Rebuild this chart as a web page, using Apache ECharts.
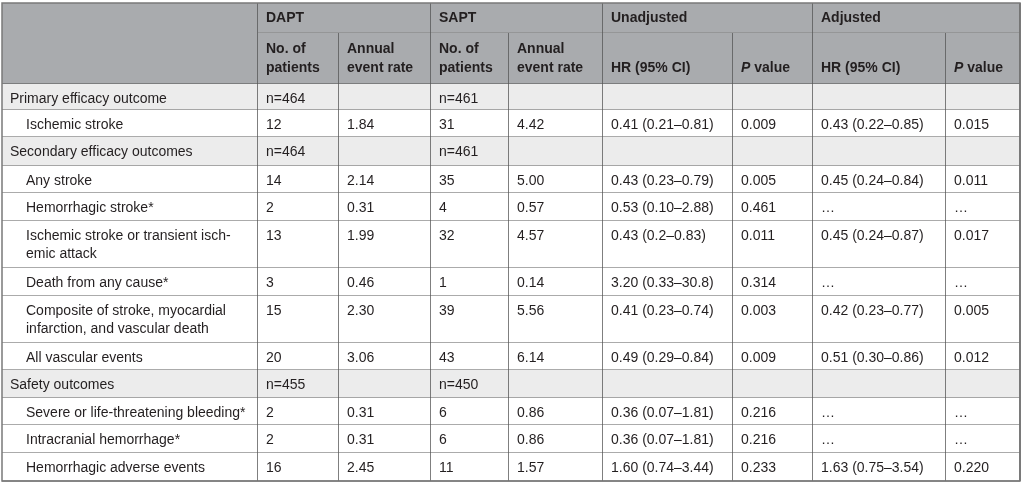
<!DOCTYPE html>
<html>
<head>
<meta charset="utf-8">
<script src="https://cdn.jsdelivr.net/npm/echarts@6/dist/echarts.min.js"></script>
<style>
  html, body { margin: 0; padding: 0; background: #fff; }
  #myChart { width: 1024px; height: 484px; }
</style>
</head>
<body>
<div id="myChart"></div>
<script>
// table content
const groups = ['DAPT', 'SAPT', 'Unadjusted', 'Adjusted']
const subHeaders = ['No. of\npatients', 'Annual\nevent rate', 'No. of\npatients', 'Annual\nevent rate',
    'HR (95% CI)', '{i|P} value', 'HR (95% CI)', '{i|P} value']
const rowLabels = [
    'Primary efficacy outcome',
    'Ischemic stroke',
    'Secondary efficacy outcomes',
    'Any stroke',
    'Hemorrhagic stroke*',
    'Ischemic stroke or transient isch-\nemic attack',
    'Death from any cause*',
    'Composite of stroke, myocardial\ninfarction, and vascular death',
    'All vascular events',
    'Safety outcomes',
    'Severe or life-threatening bleeding*',
    'Intracranial hemorrhage*',
    'Hemorrhagic adverse events'
]
const isSection = [true, false, true, false, false, false, false, false, false, true, false, false, false]
const daptN = ['n=464', '12', 'n=464', '14', '2', '13', '3', '15', '20', 'n=455', '2', '2', '16']
const daptRate = ['', '1.84', '', '2.14', '0.31', '1.99', '0.46', '2.30', '3.06', '', '0.31', '0.31', '2.45']
const saptN = ['n=461', '31', 'n=461', '35', '4', '32', '1', '39', '43', 'n=450', '6', '6', '11']
const saptRate = ['', '4.42', '', '5.00', '0.57', '4.57', '0.14', '5.56', '6.14', '', '0.86', '0.86', '1.57']
const hrUnadj = ['', '0.41 (0.21\u20130.81)', '', '0.43 (0.23\u20130.79)', '0.53 (0.10\u20132.88)', '0.43 (0.2\u20130.83)',
    '3.20 (0.33\u201330.8)', '0.41 (0.23\u20130.74)', '0.49 (0.29\u20130.84)', '', '0.36 (0.07\u20131.81)',
    '0.36 (0.07\u20131.81)', '1.60 (0.74\u20133.44)']
const pUnadj = ['', '0.009', '', '0.005', '0.461', '0.011', '0.314', '0.003', '0.009', '', '0.216', '0.216', '0.233']
const hrAdj = ['', '0.43 (0.22\u20130.85)', '', '0.45 (0.24\u20130.84)', '\u2026', '0.45 (0.24\u20130.87)', '\u2026',
    '0.42 (0.23\u20130.77)', '0.51 (0.30\u20130.86)', '', '\u2026', '\u2026', '1.63 (0.75\u20133.54)']
const pAdj = ['', '0.015', '', '0.011', '\u2026', '0.017', '\u2026', '0.005', '0.012', '', '\u2026', '\u2026', '0.220']

// layout (axis units)
const colWidths = [256, 81, 92, 78, 94, 130, 80, 133, 74]
const rowHeights = [30, 51, 26, 27, 29, 27, 28, 47, 28, 47, 27, 28, 27, 28, 28]

const colEdges = [0]
colWidths.forEach(w => colEdges.push(colEdges[colEdges.length - 1] + w))
const rowEdges = [0]
rowHeights.forEach(h => rowEdges.push(rowEdges[rowEdges.length - 1] + h))
const totalW = colEdges[colEdges.length - 1]
const totalH = rowEdges[rowEdges.length - 1]

const headFill = '#a9abae'
const sectionFill = '#ececec'
const textColor = '#231f20'
const font = '"Liberation Sans", Arial, Helvetica, sans-serif'

let cells = []
// header
cells.push({ c0: 0, c1: 1, r0: 0, r1: 2, text: '', kind: 'head' })
groups.forEach((g, i) => {
    cells.push({ c0: 1 + i * 2, c1: 3 + i * 2, r0: 0, r1: 1, text: g, kind: 'head1' })
})
subHeaders.forEach((s, i) => {
    cells.push({ c0: 1 + i, c1: 2 + i, r0: 1, r1: 2, text: s, kind: 'head2' })
})
// body
const cols = [daptN, daptRate, saptN, saptRate, hrUnadj, pUnadj, hrAdj, pAdj]
rowLabels.forEach((label, r) => {
    const kind = isSection[r] ? 'section' : 'item'
    cells.push({ c0: 0, c1: 1, r0: r + 2, r1: r + 3, text: label, kind: kind, label: true })
    cols.forEach((arr, c) => {
        cells.push({ c0: c + 1, c1: c + 2, r0: r + 2, r1: r + 3, text: arr[r], kind: kind })
    })
})

function renderCell(params, api) {
    const cell = cells[params.dataIndex]
    const p0 = api.coord([api.value(0), api.value(2)])
    const p1 = api.coord([api.value(1), api.value(3)])
    const x = p0[0], y = p0[1], w = p1[0] - p0[0], h = p1[1] - p0[1]
    const head = cell.kind.indexOf('head') === 0
    const fill = head ? headFill : (cell.kind === 'section' ? sectionFill : '#ffffff')
    const hColor = cell.r1 === 2 ? '#6e6e6e' : '#8f8f8f'
    let children = [
        { type: 'rect', shape: { x: x, y: y, width: w, height: h }, style: { fill: fill } },
        { type: 'line', shape: { x1: x, y1: y + h, x2: x + w, y2: y + h }, style: { stroke: hColor, lineWidth: 1.5 } },
        { type: 'line', shape: { x1: x + w, y1: y, x2: x + w, y2: y + h }, style: { stroke: '#555555', lineWidth: 1.5 } }
    ]
    if (cell.text) {
        let tx = x + 8
        let ty = y + 6
        let va = 'top'
        if (cell.label && cell.kind === 'item') tx = x + 24
        if (cell.kind === 'head1') { ty = y + h / 2; va = 'middle' }
        if (cell.kind === 'head2') { ty = y + h - 6; va = 'bottom' }
        children.push({
            type: 'text',
            x: tx,
            y: ty,
            style: {
                text: cell.text,
                fill: textColor,
                fontFamily: font,
                fontSize: 14,
                fontWeight: head ? 'bold' : 'normal',
                lineHeight: head ? 19 : 18,
                align: 'left',
                verticalAlign: va,
                rich: {
                    i: { fontStyle: 'italic', fontWeight: 'bold', fontSize: 14, fontFamily: font, fill: textColor, lineHeight: 19 }
                }
            }
        })
    }
    return { type: 'group', children: children }
}

function renderFrame(params, api) {
    const p0 = api.coord([0, 0])
    const p1 = api.coord([totalW, totalH])
    return {
        type: 'rect',
        shape: { x: p0[0], y: p0[1], width: p1[0] - p0[0], height: p1[1] - p0[1] },
        style: { fill: 'none', stroke: '#7a7a7a', lineWidth: 1.5 }
    }
}

let myChart = echarts.init(document.getElementById('myChart'))
let option = {
    animation: false,
    grid: { left: 2, top: 3, width: totalW, height: totalH },
    xAxis: { type: 'value', min: 0, max: totalW, show: false },
    yAxis: { type: 'value', min: 0, max: totalH, inverse: true, show: false },
    series: [
        {
            type: 'custom',
            silent: true,
            renderItem: renderCell,
            data: cells.map(c => [colEdges[c.c0], colEdges[c.c1], rowEdges[c.r0], rowEdges[c.r1]])
        },
        {
            type: 'custom',
            silent: true,
            renderItem: renderFrame,
            data: [[0]]
        }
    ]
}
myChart.setOption(option)
</script>
</body>
</html>
